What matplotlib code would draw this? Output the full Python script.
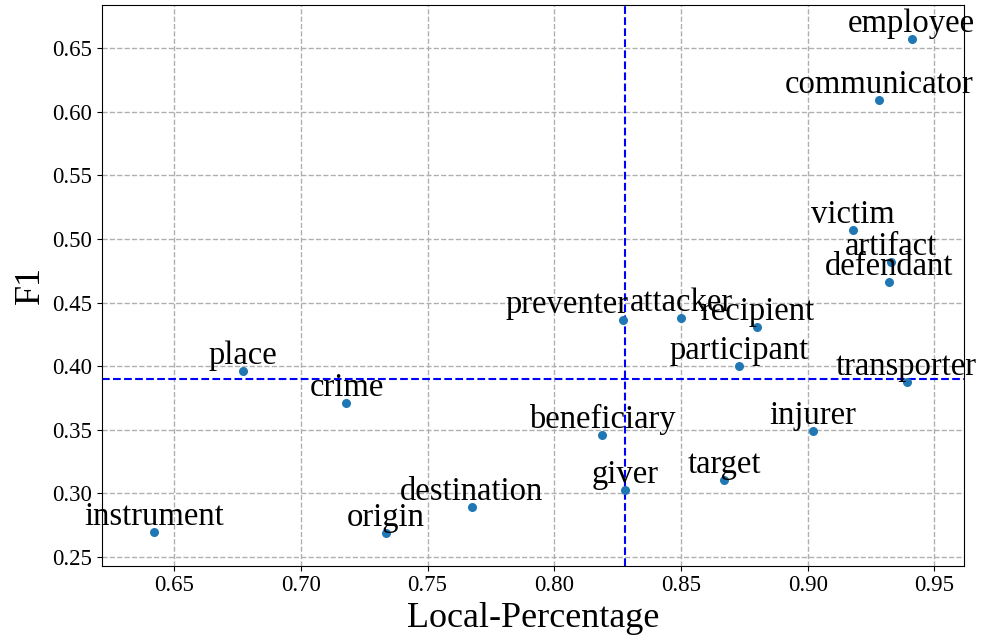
import matplotlib
matplotlib.use('Agg')
import matplotlib.pyplot as plt

plt.rcParams['font.family'] = ['Liberation Serif', 'DejaVu Serif']

# --- datos ---
roles = ['employee', 'communicator', 'victim', 'artifact', 'defendant',
         'preventer', 'attacker', 'recipient', 'participant', 'transporter',
         'place', 'crime', 'instrument', 'origin', 'destination',
         'beneficiary', 'giver', 'target', 'injurer']
local_pct = [0.941, 0.928, 0.918, 0.933, 0.932,
             0.827, 0.850, 0.880, 0.873, 0.939,
             0.677, 0.718, 0.642, 0.7335, 0.7675,
             0.819, 0.828, 0.867, 0.902]
f1 = [0.657, 0.609, 0.507, 0.482, 0.4665,
      0.436, 0.4375, 0.431, 0.4005, 0.3875,
      0.396, 0.371, 0.2695, 0.2688, 0.2895,
      0.346, 0.3025, 0.3107, 0.3493]
x_ref = 0.828
y_ref = 0.3898

fig = plt.figure(figsize=(9.82, 6.4), dpi=100)
ax = fig.add_axes([0.104, 0.116, 0.878, 0.876])

ax.scatter(local_pct, f1, s=30, color='#1f77b4', zorder=3)
for name, x, y in zip(roles, local_pct, f1):
    if name == 'preventer':
        # etiqueta desplazada a la izquierda para no pisar "attacker"
        ax.annotate(name, (x, y), xytext=(4, 0), textcoords='offset points',
                    ha='right', va='bottom', fontsize=23.5, zorder=4)
    else:
        ax.annotate(name, (x, y), ha='center', va='bottom', fontsize=23.5, zorder=4)

ax.axvline(x_ref, color='blue', linestyle='--', linewidth=1.5)
ax.axhline(y_ref, color='blue', linestyle='--', linewidth=1.5)

ax.set_xlim(0.6216, 0.9618)
ax.set_ylim(0.243, 0.684)
ax.set_xticks([0.65, 0.70, 0.75, 0.80, 0.85, 0.90, 0.95])
ax.set_yticks([0.25, 0.30, 0.35, 0.40, 0.45, 0.50, 0.55, 0.60, 0.65])
ax.tick_params(labelsize=16.5)
ax.set_xlabel('Local-Percentage', fontsize=26, labelpad=4)
ax.set_ylabel('F1', fontsize=26)
ax.grid(True, linestyle='--', color='#b0b0b0', linewidth=1)
ax.set_axisbelow(True)

fig.savefig('out.png', dpi=100)
